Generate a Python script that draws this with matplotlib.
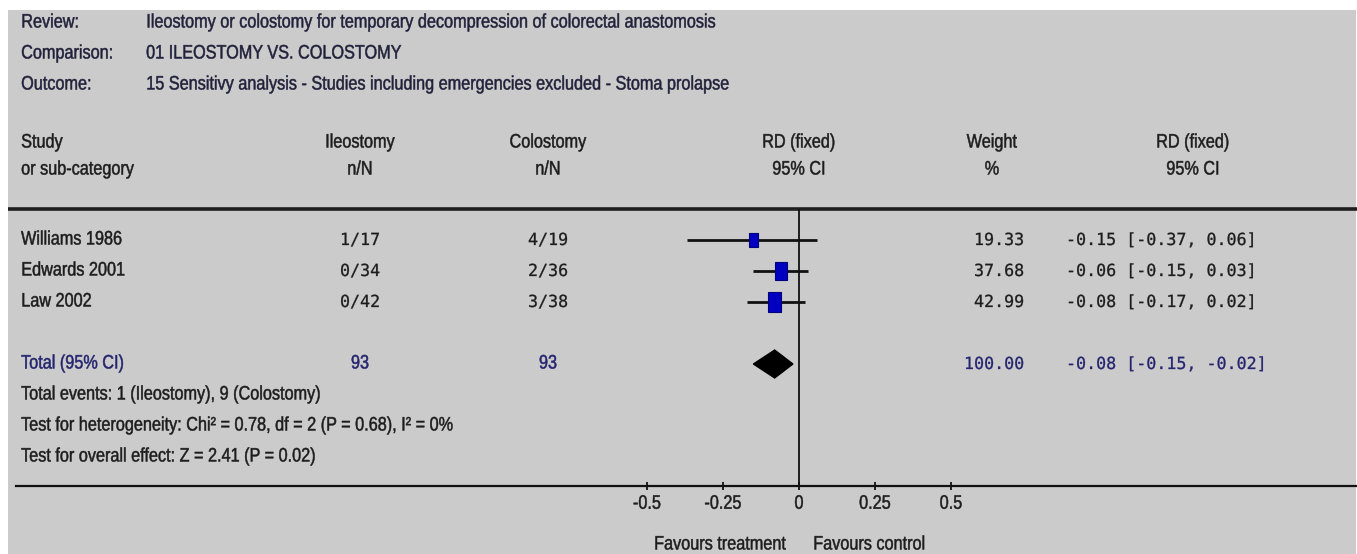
import matplotlib
matplotlib.use("Agg")
import matplotlib.pyplot as plt
from matplotlib.patches import Rectangle, Polygon
from matplotlib.patheffects import AbstractPathEffect
from matplotlib.path import Path
from matplotlib.transforms import Affine2D, blended_transform_factory

# ---- data -------------------------------------------------------------
review = "Ileostomy or colostomy for temporary decompression of colorectal anastomosis"
comparison = "01 ILEOSTOMY VS. COLOSTOMY"
outcome = "15 Sensitivy analysis - Studies including emergencies excluded - Stoma prolapse"

studies = ["Williams 1986", "Edwards 2001", "Law 2002"]
ileo_events = [1, 0, 0]
ileo_total = [17, 34, 42]
colo_events = [4, 2, 3]
colo_total = [19, 36, 38]
weights = [19.33, 37.68, 42.99]
rd = [-0.15, -0.06, -0.08]
ci_low = [-0.37, -0.15, -0.17]
ci_high = [0.06, 0.03, 0.02]

total_rd = -0.08
total_low = -0.15
total_high = -0.02
total_weight = 100.00
ileo_sum = sum(ileo_total)
colo_sum = sum(colo_total)

events_text = "Total events: 1 (Ileostomy), 9 (Colostomy)"
het_text = "Test for heterogeneity: Chi\u00b2 = 0.78, df = 2 (P = 0.68), I\u00b2 = 0%"
overall_text = "Test for overall effect: Z = 2.41 (P = 0.02)"

xticks = [-0.5, -0.25, 0, 0.25, 0.5]
xtick_labels = ["-0.5", "-0.25", "0", "0.25", "0.5"]

# ---- styling ----------------------------------------------------------
W, H, DPI = 1357, 554, 100
SANS = ["Liberation Sans", "DejaVu Sans"]
MONO = ["DejaVu Sans Mono"]
FS = 14
MFS = 12
NARROW = 0.835
INK = "#1c1c1c"
HEAD = "#20203a"
NAVY = "#23236e"
BG = "#cbcbcb"

X0_PX = 799.0      # pixel column of RD = 0
PX_PER_UNIT = 304.0
ROW0_PX = 240.0    # first study row
ROW_PX = 31.0      # row pitch
AX_TOP, AX_BOT = 209.0, 486.0
AX_LEFT, AX_RIGHT = 16.0, 1357.0


class Condensed(AbstractPathEffect):
    """Squeeze glyph outlines horizontally about the text's alignment point."""

    def __init__(self, sx, anchor="left", stroke=0.35):
        super().__init__()
        self.sx = sx
        self.anchor = anchor
        self.stroke = stroke

    def draw_path(self, renderer, gc, tpath, affine, rgbFace=None):
        verts = tpath.vertices
        if tpath.codes is not None:
            verts = verts[tpath.codes != Path.CLOSEPOLY]
        if len(verts):
            lo, hi = verts[:, 0].min(), verts[:, 0].max()
            pivot = {"left": lo, "center": 0.5 * (lo + hi), "right": hi}[self.anchor]
        else:
            pivot = 0.0
        squeeze = Affine2D().translate(-pivot, 0).scale(self.sx, 1).translate(pivot, 0)
        gc0 = renderer.new_gc()
        gc0.copy_properties(gc)
        if rgbFace is not None and self.stroke > 0:
            gc0.set_foreground(rgbFace)
            gc0.set_linewidth(self.stroke)
        renderer.draw_path(gc0, tpath, squeeze + affine, rgbFace)
        gc0.restore()


fig = plt.figure(figsize=(W / DPI, H / DPI), dpi=DPI, facecolor="white")

# page layer in pixel units
page = fig.add_axes([0, 0, 1, 1])
page.set_xlim(0, W)
page.set_ylim(H, 0)
page.axis("off")
page.add_patch(Rectangle((8, 10), W - 9, H - 10, facecolor=BG, edgecolor="none", zorder=0))

# forest plot axes
ax = fig.add_axes([AX_LEFT / W, 1 - AX_BOT / H, (AX_RIGHT - AX_LEFT) / W, (AX_BOT - AX_TOP) / H])
ax.set_facecolor("none")
ax.set_xlim((AX_LEFT - X0_PX) / PX_PER_UNIT, (AX_RIGHT - X0_PX) / PX_PER_UNIT)
ax.set_ylim((AX_BOT - ROW0_PX) / ROW_PX, (AX_TOP - ROW0_PX) / ROW_PX)
for side in ("left", "right", "top"):
    ax.spines[side].set_visible(False)
ax.spines["bottom"].set_linewidth(1.6)
ax.spines["bottom"].set_color("#111111")
ax.set_yticks([])
ax.set_xticks(xticks)
ax.set_xticklabels(xtick_labels, fontfamily=SANS, fontsize=FS, color=INK)
for lbl in ax.get_xticklabels():
    lbl.set_path_effects([Condensed(NARROW, "center")])
ax.tick_params(axis="x", direction="inout", length=6, width=1.3, color="#111111", pad=4)

ax.axvline(0, color="#111111", lw=1.3, zorder=2)

# study estimates: CI whiskers and weight-sized squares
ux = 1.0 / PX_PER_UNIT
uy = 1.0 / ROW_PX
for i, (m, lo, hi, w) in enumerate(zip(rd, ci_low, ci_high, weights)):
    ax.plot([lo, hi], [i, i], color="#111111", lw=2.0, solid_capstyle="butt", zorder=3)
    wpx = 2.0 * w ** 0.5
    hpx = 1.5 * wpx
    ax.add_patch(Rectangle((m - wpx * ux / 2, i - hpx * uy / 2), wpx * ux, hpx * uy,
                           facecolor="#0000c0", edgecolor="#00007a", lw=0.8, zorder=4))

# pooled estimate diamond
total_row = 4
dh = 0.45
ax.add_patch(Polygon([[total_low, total_row], [total_rd, total_row - dh],
                      [total_high, total_row], [total_rd, total_row + dh]],
                     closed=True, facecolor="black", edgecolor="black", zorder=4))

# text rows share the forest y-scale
rowtr = blended_transform_factory(page.transData, ax.transData)


def _txt(x, y, s, transform=None, **kw):
    kw.setdefault("fontfamily", SANS)
    kw.setdefault("fontsize", FS)
    kw.setdefault("color", INK)
    kw.setdefault("va", "center")
    ha = kw.setdefault("ha", "left")
    if transform is not None:
        kw["transform"] = transform
    t = page.text(x, y, s, clip_on=False, **kw)
    if kw["fontfamily"] is SANS:
        t.set_path_effects([Condensed(NARROW, ha)])
    else:
        t.set_path_effects([Condensed(1.0, ha, stroke=0.2)])
    return t


def ptext(x, y, s, **kw):
    return _txt(x, y, s, **kw)


def rtext(x, k, s, **kw):
    return _txt(x, k, s, transform=rowtr, **kw)


# heading block
LBL_X, VAL_X = 21, 146
for y, lab, val in [(23, "Review:", review), (54, "Comparison:", comparison), (85, "Outcome:", outcome)]:
    ptext(LBL_X, y, lab, color=HEAD)
    ptext(VAL_X, y, val, color=HEAD)

# column headings
C_ILEO, C_COLO, C_WT, C_RD = 360, 548, 992, 1193
H1, H2 = 143, 170
ptext(LBL_X, H1, "Study")
ptext(LBL_X, H2, "or sub-category")
ptext(C_ILEO, H1, "Ileostomy", ha="center")
ptext(C_ILEO, H2, "n/N", ha="center")
ptext(C_COLO, H1, "Colostomy", ha="center")
ptext(C_COLO, H2, "n/N", ha="center")
ptext(X0_PX, H1, "RD (fixed)", ha="center")
ptext(X0_PX, H2, "95% CI", ha="center")
ptext(C_WT, H1, "Weight", ha="center")
ptext(C_WT, H2, "%", ha="center")
ptext(C_RD, H1, "RD (fixed)", ha="center")
ptext(C_RD, H2, "95% CI", ha="center")
page.plot([8, W], [209, 209], color="#1e1e1e", lw=2.6, solid_capstyle="butt", zorder=5)

WT_RIGHT, CI_LEFT = 1024, 1066
for i, name in enumerate(studies):
    rtext(LBL_X, i, name)
    rtext(C_ILEO, i, f"{ileo_events[i]}/{ileo_total[i]}", ha="center", fontfamily=MONO, fontsize=MFS)
    rtext(C_COLO, i, f"{colo_events[i]}/{colo_total[i]}", ha="center", fontfamily=MONO, fontsize=MFS)
    rtext(WT_RIGHT, i, f"{weights[i]:.2f}", ha="right", fontfamily=MONO, fontsize=MFS)
    rtext(CI_LEFT, i, f"{rd[i]:.2f} [{ci_low[i]:.2f}, {ci_high[i]:.2f}]",
          fontfamily=MONO, fontsize=MFS)

# pooled row
rtext(LBL_X, total_row, "Total (95% CI)", color=NAVY)
rtext(C_ILEO, total_row, f"{ileo_sum}", ha="center", color=NAVY)
rtext(C_COLO, total_row, f"{colo_sum}", ha="center", color=NAVY)
rtext(WT_RIGHT, total_row, f"{total_weight:.2f}", ha="right", fontfamily=MONO, fontsize=MFS, color=NAVY)
rtext(CI_LEFT, total_row, f"{total_rd:.2f} [{total_low:.2f}, {total_high:.2f}]",
      fontfamily=MONO, fontsize=MFS, color=NAVY)

rtext(LBL_X, total_row + 1, events_text)
rtext(LBL_X, total_row + 2, het_text)
rtext(LBL_X, total_row + 3, overall_text)

# favours labels under the axis
ptext(X0_PX - 12, 545, "Favours treatment", ha="right")
ptext(X0_PX + 14, 545, "Favours control", ha="left")

fig.savefig("out.png", dpi=DPI, facecolor="white")
